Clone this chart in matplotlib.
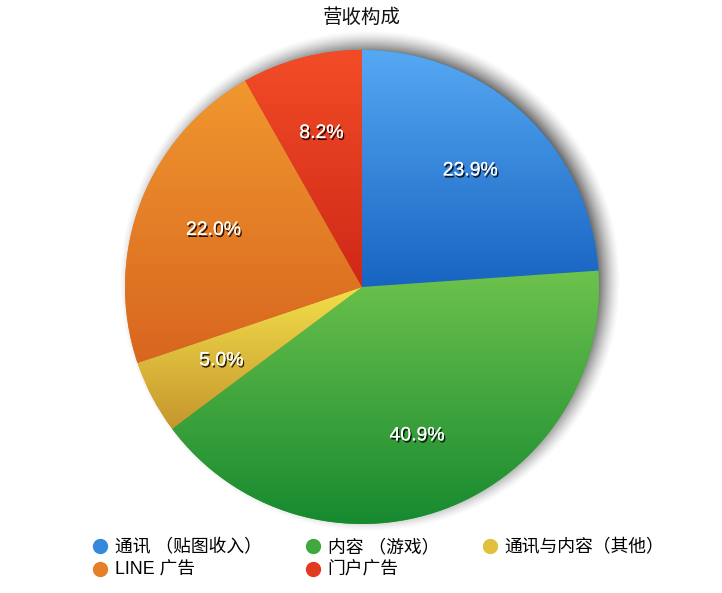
import numpy as np
import matplotlib
matplotlib.use("Agg")
import matplotlib.pyplot as plt
import matplotlib.patheffects as pe
from matplotlib.lines import Line2D
from matplotlib.colors import to_rgb

plt.rcParams['font.family'] = ['Liberation Sans', 'Noto Sans CJK SC', 'DejaVu Sans']

# data
labels = ["通讯 （贴图收入）", "内容 （游戏）", "通讯与内容（其他）", "LINE 广告", "门户广告"]
shares = [23.9, 40.9, 5.0, 22.0, 8.2]
top_colors = ["#55a8f2", "#6dc24c", "#f2de4a", "#f0972f", "#f24c27"]
bottom_colors = ["#1864c2", "#178a30", "#c6962e", "#d8661f", "#cf2818"]
mid_colors = ["#3489dc", "#40a83e", "#e0c03c", "#e58028", "#e23a20"]

W, H = 722, 593
fig = plt.figure(figsize=(W / 100, H / 100), dpi=100)
ax = fig.add_axes([0, 0, 1, 1])

cx, cy, R = 362, H - 287, 237

# soft shadow behind the pie (cast up and to the right)
yy, xx = np.mgrid[0:H, 0:W]
d = np.hypot(xx + 0.5 - (cx + 8), yy + 0.5 - (cy + 6))
alpha = np.clip((R + 14 - d) / 32, 0, 1) ** 1.4 * 0.9
shadow = np.zeros((H, W, 4))
shadow[..., 3] = alpha
ax.imshow(shadow, extent=(0, W, 0, H), origin='lower', zorder=0)

wedges, texts, autotexts = ax.pie(
    shares, center=(cx, cy), radius=R, startangle=90, counterclock=False,
    colors=mid_colors, autopct='%1.1f%%', pctdistance=0.67,
    textprops=dict(color='white', fontsize=14), frame=True)
ax.set_xlim(0, W)
ax.set_ylim(0, H)
ax.set_aspect('equal')
ax.axis('off')

# vertical gradient inside each wedge
for w, c0, c1 in zip(wedges, top_colors, bottom_colors):
    t = np.radians(np.linspace(w.theta1, w.theta2, 200))
    px = np.concatenate([[cx], cx + R * np.cos(t)])
    py = np.concatenate([[cy], cy + R * np.sin(t)])
    x0, x1, y0, y1 = px.min(), px.max(), py.min(), py.max()
    f = np.linspace(0, 1, 64)[:, None]
    grad = (1 - f) * np.array(to_rgb(c1)) + f * np.array(to_rgb(c0))
    img = np.repeat(grad[:, None, :], 2, axis=1)
    im = ax.imshow(img, extent=(x0, x1, y0, y1), origin='lower', zorder=1.5,
                   interpolation='bilinear', aspect='auto')
    im.set_clip_path(w)

for t in autotexts:
    t.set_zorder(3)
    t.set_path_effects([pe.withSimplePatchShadow(offset=(1, -1.5), shadow_rgbFace='black', alpha=0.85),
                        pe.Normal()])

fig.text(cx / W, 1 - 18 / H, "营收构成", ha='center', va='center', fontsize=14, color='#111111')

# legend, row-major order like the original
order = [0, 3, 1, 4, 2]
handles = [Line2D([], [], marker='o', ls='', markersize=10, markerfacecolor=mid_colors[i],
                  markeredgecolor=mid_colors[i]) for i in order]
fig.legend(handles, [labels[i] for i in order], ncol=3, frameon=False,
           loc='upper left', bbox_to_anchor=(91 / W, 1 - 539 / H),
           fontsize=12.8, handletextpad=0.35, columnspacing=2.35,
           labelspacing=0.32, borderpad=0, borderaxespad=0, handlelength=1.0)

fig.savefig("out.png", dpi=100)
